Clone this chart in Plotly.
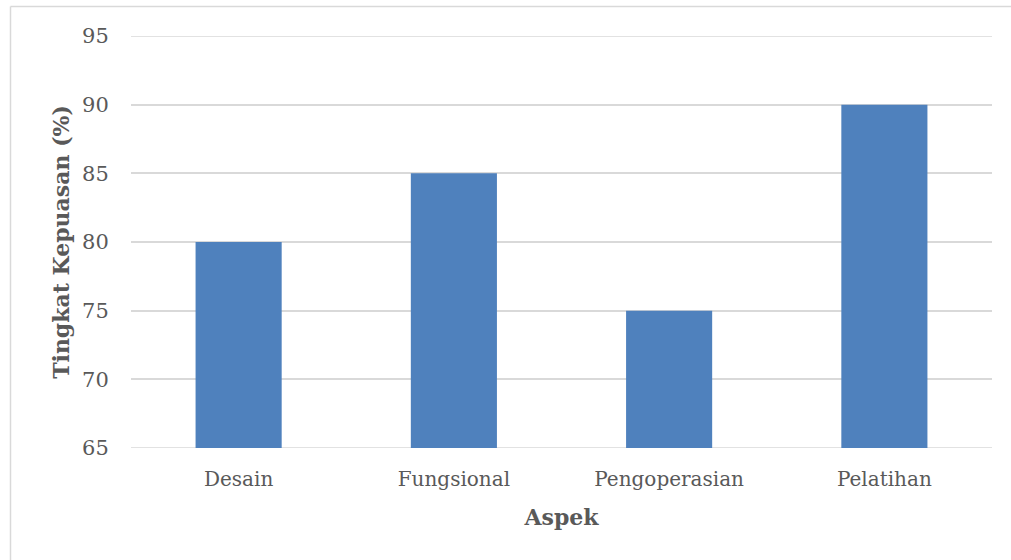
import plotly.graph_objects as go

aspek = ["Desain", "Fungsional", "Pengoperasian", "Pelatihan"]
kepuasan = [80, 85, 75, 90]
y_ticks = [65, 70, 75, 80, 85, 90, 95]

W, H = 1011, 560
L, R, T, B = 131, 19, 36, 112
FONT = "DejaVu Serif"
GREY = "#595959"
GRID = "#D9D9D9"

fig = go.Figure(
    go.Bar(
        x=aspek,
        y=kepuasan,
        marker=dict(color="#4F81BD", line=dict(width=0)),
        width=0.4,
    )
)

# outer frame of the chart area (left and top edges visible in the page)
pw, ph = W - L - R, H - T - B
x0 = (10.5 - L) / pw
y1 = 1 + (T - 6.5) / ph
fig.add_shape(type="line", xref="paper", yref="paper", x0=x0, x1=(W + 5 - L) / pw,
              y0=y1, y1=y1, line=dict(color=GRID, width=1.5))
fig.add_shape(type="line", xref="paper", yref="paper", x0=x0, x1=x0,
              y0=y1, y1=-(B + 10) / ph, line=dict(color=GRID, width=1.5))

fig.update_layout(
    width=W,
    height=H,
    margin=dict(l=L, r=R, t=T, b=B),
    paper_bgcolor="white",
    plot_bgcolor="white",
    showlegend=False,
    bargap=0.6,
    font=dict(family=FONT, color=GREY, size=20),
    xaxis=dict(
        showgrid=False,
        showline=False,
        ticks="outside",
        ticklen=13,
        tickcolor="rgba(0,0,0,0)",
        tickfont=dict(family=FONT, size=20, color=GREY),
        title=dict(text="<b>Aspek</b>", font=dict(family=FONT, size=22, color=GREY), standoff=19),
    ),
    yaxis=dict(
        range=[65, 95],
        tickvals=y_ticks,
        showgrid=True,
        gridcolor=GRID,
        gridwidth=1.5,
        zeroline=False,
        showline=False,
        ticks="outside",
        ticklen=17,
        tickcolor="rgba(0,0,0,0)",
        tickfont=dict(family=FONT, size=21, color=GREY),
        title=dict(text="<b>Tingkat Kepuasan (%)</b>", font=dict(family=FONT, size=22, color=GREY), standoff=6),
    ),
)

# gridlines at the range ends (65 and 95) drawn like the others
for v in (y_ticks[0], y_ticks[-1]):
    fig.add_shape(type="line", xref="paper", yref="y", x0=0, x1=1, y0=v, y1=v,
                  line=dict(color=GRID, width=1.5), layer="below")

fig.write_html("out.html")
